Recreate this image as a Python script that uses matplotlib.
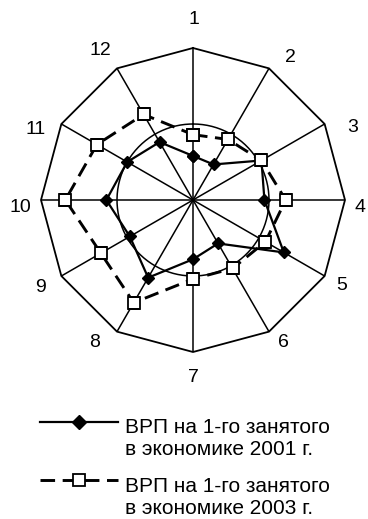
import numpy as np
import matplotlib
matplotlib.use("Agg")
import matplotlib.pyplot as plt

plt.rcParams['font.family'] = ['Liberation Sans', 'DejaVu Sans']

# axis numbers (regions) and values, scale 0..1
labels = ['1', '2', '3', '4', '5', '6', '7', '8', '9', '10', '11', '12']
vrp_2001 = [0.29, 0.27, 0.52, 0.47, 0.69, 0.33, 0.39, 0.59, 0.48, 0.57, 0.50, 0.44]
vrp_2003 = [0.43, 0.46, 0.52, 0.61, 0.55, 0.52, 0.52, 0.78, 0.70, 0.84, 0.73, 0.65]
legend_2001 = ['ВРП на 1-го занятого', 'в экономике 2001 г.']
legend_2003 = ['ВРП на 1-го занятого', 'в экономике 2003 г.']

# where each axis label sits relative to its outer vertex (pixels, right / down)
label_offsets = [(1, -28), (21, -11), (28, 4), (15, 8), (17, 9), (14, 11),
                 (0, 26), (-22, 11), (-21, 11), (-21, 8), (-26, 6), (-17, -18)]

W, H = 368, 519
fig = plt.figure(figsize=(W / 100, H / 100), dpi=100)

cx, cy, R = 193, 200, 152
ax = fig.add_axes([(cx - R) / W, (H - cy - R) / H, 2 * R / W, 2 * R / H], projection='polar')
ax.set_theta_zero_location('N')
ax.set_theta_direction(-1)
ax.set_ylim(0, 1)
ax.axis('off')

n = len(labels)
theta = np.arange(n) * 2 * np.pi / n
closed = np.append(theta, theta[0])

# grid: outer 12-gon, spokes, inner circle at half scale
ax.plot(closed, np.ones(n + 1), color='black', lw=1.3, clip_on=False)
for t in theta:
    ax.plot([t, t], [0, 1], color='black', lw=1.1)
circ = np.linspace(0, 2 * np.pi, 300)
ax.plot(circ, np.full_like(circ, 0.5), color='black', lw=1.1)

for t, lab, (ox, oy) in zip(theta, labels, label_offsets):
    ax.annotate(lab, (t, 1), xytext=(ox, -oy), textcoords='offset pixels',
                ha='center', va='center', fontsize=14, annotation_clip=False)

ax.plot(closed, vrp_2001 + vrp_2001[:1], color='black', lw=1.6,
        marker='D', markersize=6.5, markerfacecolor='black')
ax.plot(closed, vrp_2003 + vrp_2003[:1], color='black', lw=2.1, linestyle=(0, (5, 2.6)),
        marker='s', markersize=9, markerfacecolor='white', markeredgewidth=1.3)

# legend drawn in pixel coordinates
lax = fig.add_axes([0, 0, 1, 1])
lax.set_xlim(0, W)
lax.set_ylim(H, 0)
lax.axis('off')

lax.plot([40, 118], [422, 422], color='black', lw=1.6)
lax.plot([79], [422], marker='D', markersize=7, color='black')
lax.plot([40, 118], [480, 480], color='black', lw=2.1, linestyle=(0, (5, 2.6)))
lax.plot([79], [480], marker='s', markersize=9, markerfacecolor='white',
         markeredgecolor='black', markeredgewidth=1.3)

for i, line in enumerate(legend_2001):
    lax.text(125, 433 + 22 * i, line, fontsize=15, va='baseline')
for i, line in enumerate(legend_2003):
    lax.text(125, 492 + 22 * i, line, fontsize=15, va='baseline')

fig.savefig('out.png', dpi=100)
